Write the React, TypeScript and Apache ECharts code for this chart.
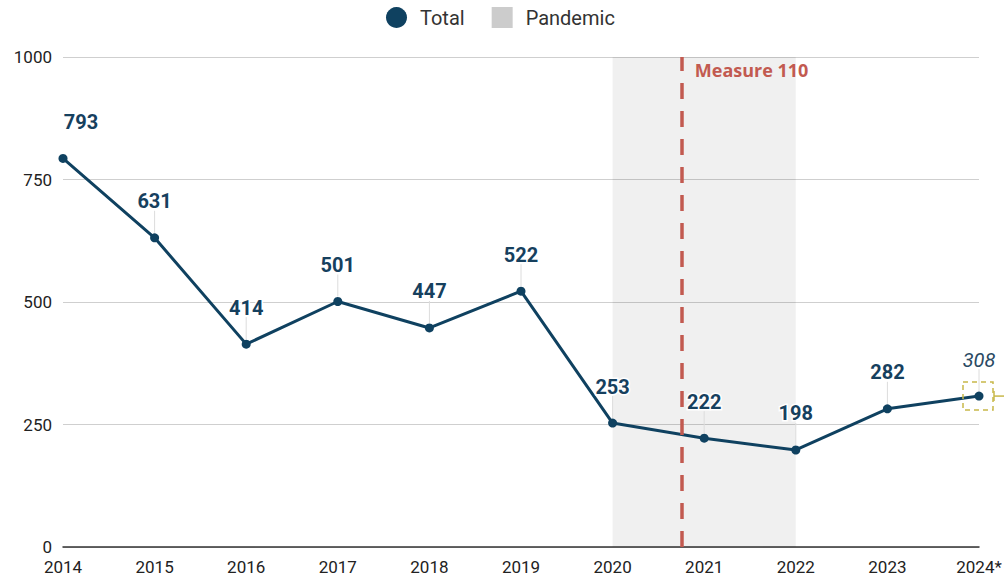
import React, { useEffect, useRef } from "react";
import * as echarts from "echarts";

const years = [2014, 2015, 2016, 2017, 2018, 2019, 2020, 2021, 2022, 2023, 2024];
const yearLabels = ["2014", "2015", "2016", "2017", "2018", "2019", "2020", "2021", "2022", "2023", "2024*"];
const totals = [793, 631, 414, 501, 447, 522, 253, 222, 198, 282, 308];
const pandemicRange = [2020, 2022];
const measureYear = 2020.75;
const measureLabel = "Measure 110";
const yTicks = [0, 250, 500, 750, 1000];

const NAVY = "#0f4160";
const RED = "#c25a50";

export default function App() {
  const ref = useRef<HTMLDivElement>(null);
  useEffect(() => {
    if (!ref.current) return;
    const chart = echarts.init(ref.current, null, { renderer: "svg" });
    const last = totals.length - 1;
    const lineData = years.map((y, i) => {
      const item: any = { value: [y, totals[i]] };
      if (i === 0) item.label = { offset: [18, 0] };
      if (i === last) item.label = { fontStyle: "italic", fontWeight: "normal", color: "#2a4a63" };
      return item;
    });
    chart.setOption({
      animation: false,
      textStyle: { fontFamily: "Roboto" },
      legend: {
        top: 2,
        left: 381,
        itemGap: 27,
        itemWidth: 21,
        itemHeight: 21,
        textStyle: { fontSize: 20, color: "#333", fontFamily: "Roboto", padding: [0, 0, 0, 8] },
        data: [
          { name: "Total", icon: "circle", itemStyle: { color: NAVY } },
          { name: "Pandemic", icon: "rect", itemStyle: { color: "#cccccc" } },
        ],
      },
      grid: { left: 63, right: 28, top: 57, bottom: 31, containLabel: false },
      xAxis: {
        type: "value",
        min: years[0],
        max: years[years.length - 1],
        interval: 1,
        axisLine: { show: true, onZero: true, lineStyle: { color: "#333", width: 1.5 } },
        axisTick: { show: false },
        splitLine: { show: false },
        axisLabel: {
          fontSize: 17,
          color: "#222",
          margin: 11,
          formatter: (v: number) => {
            const i = years.indexOf(v);
            return i >= 0 ? yearLabels[i] : "";
          },
        },
      },
      yAxis: {
        type: "value",
        min: yTicks[0],
        max: yTicks[yTicks.length - 1],
        interval: 250,
        axisLine: { show: false },
        axisTick: { show: false },
        splitLine: { lineStyle: { color: "#cfcfcf", width: 1 } },
        axisLabel: { fontSize: 17, color: "#222", margin: 11, formatter: (v: number) => String(v) },
      },
      series: [
        {
          name: "Pandemic",
          type: "line",
          data: [],
          color: "#cccccc",
          markArea: {
            silent: true,
            itemStyle: { color: "rgba(0,0,0,0.06)" },
            data: [[{ xAxis: pandemicRange[0] }, { xAxis: pandemicRange[1] }]],
          },
        },
        {
          name: "leaders",
          type: "custom",
          silent: true,
          z: 1,
          data: years.slice(1).map((y, i) => [y, totals[i + 1]]),
          renderItem: (params: any, api: any) => {
            const p = api.coord([api.value(0), api.value(1)]);
            return {
              type: "line",
              shape: { x1: p[0], y1: p[1] - 5, x2: p[0], y2: p[1] - 27 },
              style: { stroke: "#dcdcdc", lineWidth: 1 },
            };
          },
        },
        {
          name: "Total",
          type: "line",
          color: NAVY,
          z: 3,
          data: lineData,
          symbol: "circle",
          symbolSize: 9,
          lineStyle: { width: 3, color: NAVY },
          itemStyle: { color: NAVY },
          label: {
            show: true,
            position: "top",
            distance: 22,
            fontSize: 20,
            fontWeight: "bold",
            color: "#16405e",
            fontFamily: "Roboto",
            textBorderColor: "#fff",
            textBorderWidth: 3,
          },
          markLine: {
            silent: true,
            symbol: "none",
            lineStyle: { color: RED, width: 3.5, type: [16, 12] },
            label: { show: false },
            data: [{ xAxis: measureYear }],
          },
          markPoint: {
            silent: true,
            symbol: "rect",
            symbolSize: 1,
            itemStyle: { color: "rgba(0,0,0,0)" },
            data: [
              {
                coord: [measureYear, 973],
                value: measureLabel,
                label: {
                  show: true,
                  position: "right",
                  distance: 13,
                  formatter: measureLabel,
                  color: RED,
                  fontWeight: "bold",
                  fontSize: 18,
                  fontFamily: "Open Sans",
                },
              },
            ],
          },
        },
        {
          name: "estimateBox",
          type: "custom",
          silent: true,
          z: 4,
          data: [[years[last], totals[last]]],
          renderItem: (params: any, api: any) => {
            const p = api.coord([api.value(0), api.value(1)]);
            return {
              type: "group",
              children: [
                {
                  type: "rect",
                  shape: { x: p[0] - 16, y: p[1] - 14, width: 30, height: 28 },
                  style: { fill: "none", stroke: "#c8b84a", lineWidth: 1.5, lineDash: [5, 4] },
                },
                {
                  type: "line",
                  shape: { x1: p[0] + 15, y1: p[1] - 5, x2: p[0] + 15, y2: p[1] + 5 },
                  style: { stroke: "#c8b84a", lineWidth: 1.5 },
                },
                {
                  type: "line",
                  shape: { x1: p[0] + 15, y1: p[1], x2: p[0] + 25, y2: p[1] },
                  style: { stroke: "#c8b84a", lineWidth: 1.5 },
                },
              ],
            };
          },
        },
      ],
    });
    return () => chart.dispose();
  }, []);
  return <div ref={ref} style={{ position: "absolute", left: 0, top: 0, width: 1007, height: 578 }} />;
}
